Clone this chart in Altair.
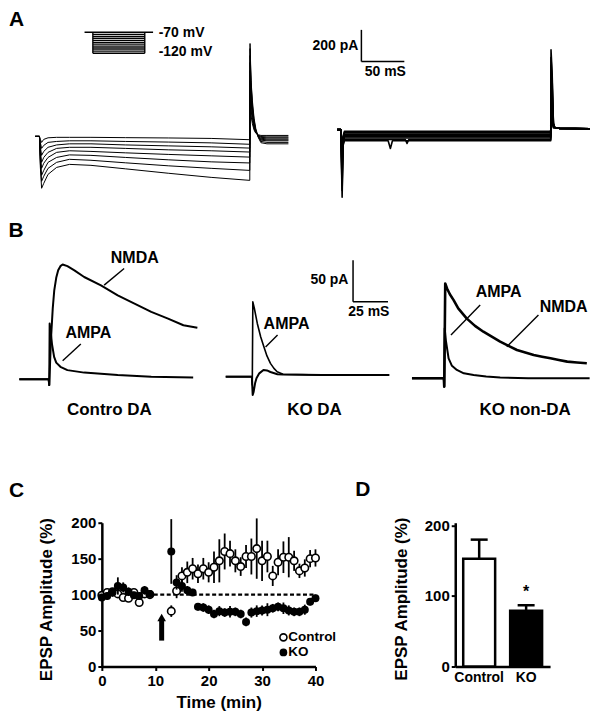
import altair as alt
import pandas as pd

FONT = "Liberation Sans"

# ---------------- Panel A: current traces (ms, pA) ----------------
A_LEFT_T = [-5, 0, 1, 2.5, 5, 10, 20, 35, 60, 100, 150, 200, 245,
            245.3, 246.5, 248, 250, 252, 255, 258, 265, 290]
A_LEFT_TRACES = [
    [0, 0, -19, -38, -19, -9, -6, -6, -6, -8, -10, -13, -21, 227, 130, 80, 40, 20, 10, 6, 6, 6],
    [0, 0, -38, -76, -57, -38, -32, -28, -28, -32, -36, -41, -50, 290, 170, 100, 50, 22, 8, -1, -3, -3],
    [0, 0, -63, -120, -95, -69, -54, -47, -47, -54, -60, -66, -74, 353, 210, 120, 60, 25, 5, -6, -9, -9],
    [0, 0, -88, -164, -133, -101, -76, -69, -69, -76, -85, -91, -99, 416, 250, 140, 70, 28, 3, -12, -16, -16],
    [0, 0, -114, -202, -170, -133, -101, -91, -95, -104, -114, -123, -131, 467, 290, 160, 80, 30, 0, -18, -22, -22],
    [0, 0, -139, -246, -215, -164, -133, -117, -120, -133, -148, -161, -168, 511, 320, 180, 90, 35, -3, -24, -28, -28],
    [0, 0, -164, -284, -252, -202, -164, -145, -151, -167, -186, -202, -215, 555, 340, 200, 100, 40, -5, -32, -38, -38],
    [0, 0, -189, -328, -297, -240, -196, -177, -183, -205, -233, -259, -278, 587, 353, 227, 114, 50, -8, -40, -47, -47],
]
A_RIGHT_T = [-4.4, -0.2, 0.6, 1.4, 2.5, 4, 55, 57.6, 60, 75, 77, 79,
             244.4, 244.7, 246, 247.5, 249, 255, 290]
A_RIGHT_TRACES = [
    [-6, -6, -60, -120, -47, -17, -17, -17, -17, -17, -17, -17, -17, 150, 40, 5, 8, 2, 0],
    [-6, -6, -80, -160, -55, -25, -25, -25, -25, -25, -25, -25, -25, 200, 80, 10, 8, 2, 0],
    [-6, -6, -100, -200, -64, -34, -34, -34, -34, -34, -34, -34, -34, 250, 120, 15, 8, 2, 0],
    [-6, -6, -125, -250, -72, -42, -42, -42, -42, -42, -42, -42, -42, 300, 170, 20, 8, 2, 0],
    [-6, -6, -145, -290, -81, -51, -51, -51, -51, -51, -51, -51, -51, 350, 220, 25, 8, 2, 0],
    [-6, -6, -170, -340, -89, -59, -59, -59, -59, -59, -59, -59, -59, 400, 270, 30, 8, 2, 0],
    [-6, -6, -195, -390, -98, -68, -68, -68, -68, -68, -93, -68, -68, 450, 310, 33, 8, 2, 0],
    [-6, -6, -216, -433, -106, -76, -76, -125, -76, -76, -76, -76, -76, 498, 353, 35, 8, 2, 0],
]
# voltage protocol (inset)
PROTO_HOLD = -70
PROTO_LEVELS = [-75, -80, -85, -90, -95, -100, -105, -110, -115, -120]
PROTO_T = [-40, 0, 250, 290]
PROTO_LABELS = ["-70 mV", "-120 mV"]
SCALE_A = ["200 pA", "50 mS"]

# ---------------- Panel B: EPSC traces (ms, pA) ----------------
B_L_AMPA_T = [-21.4, -0.4, 0, 0.3, 1, 2, 3.5, 5, 8, 13, 25, 49, 73, 103]
B_L_AMPA_I = [0, 0, -7, 67, 58, 42, 27, 20, 15, 11, 8, 5, 3, 2]
B_L_NMDA_T = [-21.4, -0.4, 0, 0.5, 1.2, 2.5, 3.6, 5, 6.4, 8, 9.6, 13, 18, 25, 37, 49, 61, 73, 85, 96, 106]
B_L_NMDA_I = [0, 0, -7, 15, 47, 85, 107, 122, 131, 136, 138, 136, 131, 123, 113, 101, 91, 81, 73, 65, 62]

B_M_AMPA_T = [-19, -0.3, 0, 0.4, 1.5, 3.6, 6, 8.3, 10.5, 13, 15.5, 17.8, 22, 50, 98]
B_M_AMPA_I = [0, 0, -10, 90, 82, 64, 48, 36, 25, 16, 10, 6, 3, 2, 2]
B_M_NMDA_T = [-19, -0.3, 0.3, 1, 2, 3, 5, 8, 10.5, 13, 18, 22, 50, 98]
B_M_NMDA_I = [0, 0, -22, -18, -8, -2, 4, 8, 7.5, 5.6, 3, 2.5, 2, 2]

B_R_AMPA_T = [-23.1, -0.3, 0, 0.3, 1.2, 3.1, 5.5, 9, 14, 21, 30, 40, 60, 104]
B_R_AMPA_I = [0, 0, -10, 60, 45, 24, 15, 10, 6, 4, 2, 1, 0, 0]
B_R_NMDA_T = [-23.1, -0.3, 0, 0.7, 2, 4, 6.7, 10, 16, 22, 28, 34, 40, 46, 52, 58, 64, 70, 76, 82, 88, 95, 102]
B_R_NMDA_I = [0, 0, -10, 114, 108, 101, 94, 84, 72, 63, 56, 50, 44, 39, 34, 31, 28, 26, 24, 22, 20, 19, 18]
B_NAMES = ["Contro DA", "KO DA", "KO non-DA"]
SCALE_B = ["50 pA", "25 mS"]

# ---------------- Panel C: EPSP time course ----------------
C_T = list(range(0, 10)) + list(range(13, 41))
CTRL_V = [99, 103, 104, 101, 96, 95, 103, 89, 101, 100,
          77, 105, 126, 131, 136, 129, 136, 131, 138, 147,
          160, 157, 147, 139, 153, 153, 164, 147, 153, 126,
          145, 152, 152, 147, 133, 137, 150, 151]
CTRL_E = [4, 5, 4, 4, 5, 4, 4, 4, 4, 4,
          8, 10, 12, 15, 15, 13, 15, 14, 22, 30,
          25, 18, 16, 13, 16, 25, 42, 28, 22, 14,
          18, 22, 28, 14, 10, 12, 12, 12]
KO_V = [96, 98, 103, 112, 110, 104, 99, 98, 106, 101,
        160, 117, 112, 106, 103, 83, 82, 79, 73, 77,
        75, 76, 76, 73, 62, 75, 77, 78, 79, 81,
        83, 81, 78, 76, 76, 79, 90, 95]
KO_E = [5, 5, 6, 12, 7, 6, 5, 5, 6, 5,
        45, 10, 8, 6, 5, 5, 6, 6, 6, 7,
        6, 8, 6, 6, 6, 7, 8, 7, 9, 6,
        6, 8, 7, 6, 6, 7, 5, 5]
C_XTICKS = [0, 10, 20, 30, 40]
C_YTICKS = [0, 50, 100, 150, 200]
BASELINE = 100

# ---------------- Panel D: summary bars ----------------
D_GROUPS = ["Control", "KO"]
D_MEAN = [153, 79]
D_SEM = [27, 8]
D_YTICKS = [0, 100, 200]


# ======================= helpers =======================
def lin(domain):
    return alt.Scale(domain=domain, nice=False, zero=False)


def long_df(names, times, values):
    rows = []
    for name, ts, vs in zip(names, times, values):
        for n, (t, v) in enumerate(zip(ts, vs)):
            rows.append({"trace": name, "n": n, "t": t, "i": v})
    return pd.DataFrame(rows)


def traces(df, xd, yd, sw):
    return alt.Chart(df).mark_line(color="black", strokeWidth=sw, strokeJoin="round").encode(
        x=alt.X("t:Q", scale=lin(xd), axis=None),
        y=alt.Y("i:Q", scale=lin(yd), axis=None),
        detail="trace:N", order="n:Q")


def seg(df, xd, yd, sw=1.5):
    return alt.Chart(df).mark_rule(color="black", strokeWidth=sw).encode(
        x=alt.X("x0:Q", scale=lin(xd), axis=None), x2="x1:Q",
        y=alt.Y("y0:Q", scale=lin(yd), axis=None), y2="y1:Q")


def labels(df, xd, yd, size=16, align="center"):
    return alt.Chart(df).mark_text(font=FONT, fontWeight="bold", fontSize=size, align=align,
                                   baseline="middle", color="black").encode(
        x=alt.X("x:Q", scale=lin(xd), axis=None),
        y=alt.Y("y:Q", scale=lin(yd), axis=None),
        text="label:N")


def pix_text(s, x, y, size):
    return alt.Chart(pd.DataFrame({"s": [s]})).mark_text(
        font=FONT, fontWeight="bold", fontSize=size, align="center", baseline="middle",
        color="black").encode(x=alt.value(x), y=alt.value(y), text="s:N")


# ======================= Row A =======================
XA_L, YA_L = [-35.47, 304.07], [-391.2, 807.6]
XA_R, YA_R = [-47.09, 292.44], [-439.7, 759.0]
XP, YP = [-403.85, 1000.0], [-465.95, -13.57]

a_l_tr = traces(long_df(range(8), [A_LEFT_T] * 8, A_LEFT_TRACES), XA_L, YA_L, 1.0)

proto_h = pd.DataFrame({"x0": [PROTO_T[0]] + [PROTO_T[1]] * len(PROTO_LEVELS),
                        "x1": [PROTO_T[3]] + [PROTO_T[2]] * len(PROTO_LEVELS),
                        "y0": [PROTO_HOLD] + PROTO_LEVELS,
                        "y1": [PROTO_HOLD] + PROTO_LEVELS})
proto_v = pd.DataFrame({"x0": [PROTO_T[1], PROTO_T[2]], "x1": [PROTO_T[1], PROTO_T[2]],
                        "y0": [PROTO_HOLD] * 2, "y1": [PROTO_LEVELS[-1]] * 2})
proto_txt = pd.DataFrame({"x": [317, 317], "y": [-72, -116], "label": PROTO_LABELS})
inset = alt.layer(seg(proto_h, XP, YP, 1.4), seg(proto_v, XP, YP, 1.4),
                  labels(proto_txt, XP, YP, 14, "left"))

a_left = alt.layer(a_l_tr, inset, pix_text("A", 7.5, 11.5, 21)).resolve_scale(
    x="independent", y="independent").properties(width=292, height=190)

a_r_tr = traces(long_df(range(8), [A_RIGHT_T] * 8, A_RIGHT_TRACES), XA_R, YA_R, 1.6)
sbA = pd.DataFrame({"x0": [23.84, 23.84], "x1": [23.84, 73.84],
                    "y0": [424.6, 424.6], "y1": [624.6, 424.6]})
sbA_txt = pd.DataFrame({"x": [20.35, 51.7], "y": [523, 357], "label": SCALE_A})
a_right = alt.layer(
    a_r_tr, seg(sbA, XA_R, YA_R, 1.5),
    labels(sbA_txt.iloc[[0]], XA_R, YA_R, 14, "right"),
    labels(sbA_txt.iloc[[1]], XA_R, YA_R, 14, "center"),
).properties(width=292, height=190)

rowA = alt.hconcat(a_left, a_right, spacing=0, bounds="flush")

# ======================= Row B =======================
XB_L, YB_L = [-28.79, 119.07], [-48.86, 217.65]
XB_M, YB_M = [-26.21, 105.93], [-51.98, 214.53]
XB_R, YB_R = [-31.43, 105.71], [-50.06, 216.45]

b_left = alt.layer(
    traces(long_df(["AMPA", "NMDA"], [B_L_AMPA_T, B_L_NMDA_T], [B_L_AMPA_I, B_L_NMDA_I]), XB_L, YB_L, 2.0),
    labels(pd.DataFrame({"x": [61.2, 28.0], "y": [145.6, 55.6], "label": ["NMDA", "AMPA"]}), XB_L, YB_L, 16),
    seg(pd.DataFrame({"x0": [53.6, 22.6], "y0": [133.3, 42.4], "x1": [39.3, 9.6], "y1": [113.2, 22.3]}), XB_L, YB_L, 1.4),
    pix_text(B_NAMES[0], 100.5, 212, 17),
    pix_text("B", 7, 32.5, 21),
).properties(width=207, height=222)

b_mid = alt.layer(
    traces(long_df(["AMPA"], [B_M_AMPA_T], [B_M_AMPA_I]), XB_M, YB_M, 1.6),
    traces(long_df(["NMDA"], [B_M_NMDA_T], [B_M_NMDA_I]), XB_M, YB_M, 2.0),
    labels(pd.DataFrame({"x": [24.5], "y": [63.3], "label": ["AMPA"]}), XB_M, YB_M, 16),
    seg(pd.DataFrame({"x0": [18.1], "y0": [50.0], "x1": [9.5], "y1": [35.7]}), XB_M, YB_M, 1.4),
    seg(pd.DataFrame({"x0": [72.1, 72.1], "x1": [72.1, 97.1], "y0": [90, 90], "y1": [140, 90]}), XB_M, YB_M, 1.5),
    labels(pd.DataFrame({"x": [68.8], "y": [116], "label": [SCALE_B[0]]}), XB_M, YB_M, 14, "right"),
    labels(pd.DataFrame({"x": [83.4], "y": [77.7], "label": [SCALE_B[1]]}), XB_M, YB_M, 14, "center"),
    pix_text(B_NAMES[1], 99, 212, 17),
).properties(width=185, height=222)

b_right = alt.layer(
    traces(long_df(["AMPA"], [B_R_AMPA_T], [B_R_AMPA_I]), XB_R, YB_R, 2.0),
    traces(long_df(["NMDA"], [B_R_NMDA_T], [B_R_NMDA_I]), XB_R, YB_R, 2.6),
    labels(pd.DataFrame({"x": [38.9, 85.4], "y": [104, 86], "label": ["AMPA", "NMDA"]}), XB_R, YB_R, 16),
    seg(pd.DataFrame({"x0": [25.7, 67.4], "y0": [88, 76], "x1": [4.8, 44.8], "y1": [52, 38]}), XB_R, YB_R, 1.4),
    pix_text(B_NAMES[2], 125, 212, 17),
).properties(width=192, height=222)

rowB = alt.hconcat(b_left, b_mid, b_right, spacing=0, bounds="flush")

# ======================= gap row with panel letters =======================
gap = alt.layer(pix_text("C", 7.5, 71.5, 21), pix_text("D", 354.5, 70, 21)).properties(width=584, height=96)

# ======================= Panel C =======================
XC = alt.Scale(domain=[0, 40], nice=False, zero=False)
YC = alt.Scale(domain=[0, 200], nice=False)
axis_common = dict(domainColor="black", domainWidth=2.5, tickColor="black", tickWidth=2,
                   tickSize=4, labelFont=FONT, labelFontWeight="bold", labelFontSize=15,
                   labelColor="black", labelFlush=False, labelOverlap=False, grid=False,
                   titleFont=FONT, titleFontWeight="bold", titleFontSize=17, titleColor="black")
AXC_X = alt.Axis(values=C_XTICKS, title="Time (min)", labelPadding=3,
                 titleX=117, titleY=36.5, titleBaseline="middle", titleAlign="center", **axis_common)
AXC_Y = alt.Axis(values=C_YTICKS, title="EPSP Amplitude (%)", labelPadding=2,
                 titleX=-55.5, titleY=76.5, titleAngle=270, titleBaseline="middle",
                 titleAlign="center", **axis_common)

dfC = pd.DataFrame({"t": C_T, "cv": CTRL_V,
                    "clo": [v - e for v, e in zip(CTRL_V, CTRL_E)],
                    "chi": [v + e for v, e in zip(CTRL_V, CTRL_E)],
                    "kv": KO_V,
                    "klo": [v - e for v, e in zip(KO_V, KO_E)],
                    "khi": [v + e for v, e in zip(KO_V, KO_E)]})


def cx(field):
    return alt.X(field, scale=XC, axis=AXC_X)


def cy(field):
    return alt.Y(field, scale=YC, axis=AXC_Y)


base_line = alt.Chart(pd.DataFrame({"x0": [C_XTICKS[0]], "x1": [C_XTICKS[-1]], "v": [BASELINE]})).mark_rule(
    color="black", strokeWidth=2.2, strokeDash=[4, 2.5]).encode(x=cx("x0:Q"), x2="x1:Q", y=cy("v:Q"))
c_err = alt.Chart(dfC).mark_rule(color="black", strokeWidth=1.8).encode(x=cx("t:Q"), y=cy("clo:Q"), y2="chi:Q")
c_pts = alt.Chart(dfC).mark_point(shape="circle", filled=True, fill="white", stroke="black",
                                  strokeWidth=1.6, size=56, opacity=1).encode(x=cx("t:Q"), y=cy("cv:Q"))
k_err = alt.Chart(dfC).mark_rule(color="black", strokeWidth=1.8).encode(x=cx("t:Q"), y=cy("klo:Q"), y2="khi:Q")
k_pts = alt.Chart(dfC).mark_circle(color="black", size=64, opacity=1).encode(x=cx("t:Q"), y=cy("kv:Q"))

arrow_df = pd.DataFrame({"t": [11.2], "v0": [36], "v1": [64], "vh": [68]})
arrow = alt.Chart(arrow_df).mark_rule(color="black", strokeWidth=5).encode(x=cx("t:Q"), y=cy("v0:Q"), y2="v1:Q")
arrow_head = alt.Chart(arrow_df).mark_point(shape="triangle-up", filled=True, color="black",
                                            size=75, opacity=1).encode(x=cx("t:Q"), y=cy("vh:Q"))

leg_df = pd.DataFrame({"t": [34.0, 34.0], "tt": [34.9, 34.9], "v": [40.5, 19.5], "label": ["Control", "KO"]})
leg_c = alt.Chart(leg_df.iloc[[0]]).mark_point(shape="circle", filled=True, fill="white", stroke="black",
                                               strokeWidth=1.6, size=50, opacity=1).encode(x=cx("t:Q"), y=cy("v:Q"))
leg_k = alt.Chart(leg_df.iloc[[1]]).mark_circle(color="black", size=60, opacity=1).encode(x=cx("t:Q"), y=cy("v:Q"))
leg_t = alt.Chart(leg_df).mark_text(font=FONT, fontWeight="bold", fontSize=13.5, align="left",
                                    baseline="middle", color="black").encode(x=cx("tt:Q"), y=cy("v:Q"), text="label:N")

panel_c = alt.layer(base_line, c_err, c_pts, k_err, k_pts, arrow, arrow_head, leg_c, leg_k, leg_t).properties(
    width=214, height=144)

# ======================= Panel D =======================
XD = alt.Scale(domain=D_GROUPS, paddingInner=0.32, paddingOuter=0.17)
YD = alt.Scale(domain=[0, 204], nice=False)
AXD_X = alt.Axis(title=None, ticks=False, labelAngle=0, labelPadding=4, labelFont=FONT,
                 labelFontWeight="bold", labelFontSize=14, labelColor="black",
                 domainColor="black", domainWidth=2.5, grid=False)
AXD_Y = alt.Axis(values=D_YTICKS, title="EPSP Amplitude (%)", labelPadding=2,
                 titleX=-53.5, titleY=76, titleAngle=270, titleBaseline="middle",
                 titleAlign="center", **axis_common)
dfD = pd.DataFrame({"g": D_GROUPS, "v": D_MEAN, "hi": [m + s for m, s in zip(D_MEAN, D_SEM)]})


def dx():
    return alt.X("g:N", scale=XD, axis=AXD_X, sort=D_GROUPS)


d_bars = alt.Chart(dfD).mark_bar(stroke="black", strokeWidth=2.5).encode(
    x=dx(), y=alt.Y("v:Q", scale=YD, axis=AXD_Y),
    fill=alt.Fill("g:N", scale=alt.Scale(domain=D_GROUPS, range=["white", "black"]), legend=None))
d_err = alt.Chart(dfD).mark_rule(color="black", strokeWidth=2.5).encode(
    x=dx(), y=alt.Y("v:Q", scale=YD, axis=AXD_Y), y2="hi:Q")
d_cap = alt.Chart(dfD).mark_tick(color="black", thickness=2.5, size=17, opacity=1).encode(
    x=dx(), y=alt.Y("hi:Q", scale=YD, axis=AXD_Y))
d_star = alt.Chart(pd.DataFrame({"g": ["KO"], "y": [99], "s": ["*"]})).mark_text(
    font=FONT, fontWeight="bold", fontSize=16, baseline="alphabetic", color="black").encode(
    x=dx(), y=alt.Y("y:Q", scale=YD, axis=AXD_Y), text="s:N")
panel_d = alt.layer(d_bars, d_err, d_cap, d_star).properties(width=95, height=144)

sp1 = alt.Chart(pd.DataFrame({"s": [""]})).mark_text().encode(
    x=alt.value(0), y=alt.value(0), text="s:N").properties(width=93, height=144)
sp2 = alt.Chart(pd.DataFrame({"s": [""]})).mark_text().encode(
    x=alt.value(0), y=alt.value(0), text="s:N").properties(width=140, height=144)

rowCD = alt.hconcat(sp1, panel_c, sp2, panel_d, spacing=0, bounds="flush")

chart = alt.vconcat(rowA, rowB, gap, rowCD, spacing=0).properties(
    padding=0, background="white").configure_view(stroke=None)

chart.save("out.html", embed_options={"renderer": "svg", "actions": False})
